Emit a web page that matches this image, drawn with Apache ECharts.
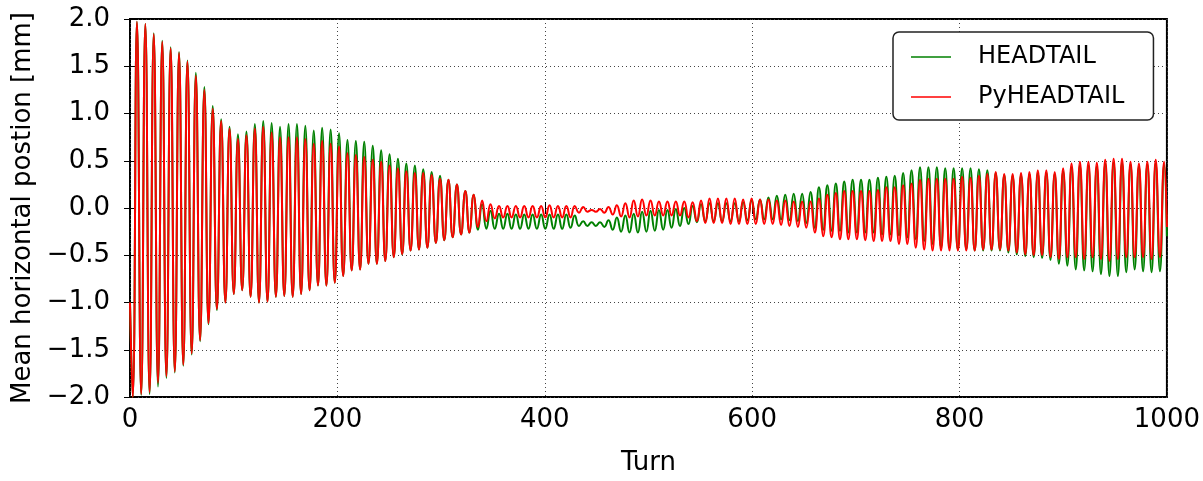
<!DOCTYPE html>
<html>
<head>
<meta charset="utf-8">
<script src="https://cdn.jsdelivr.net/npm/echarts@6/dist/echarts.min.js"></script>
<style>
  html, body { margin: 0; padding: 0; background: #fff; }
  #chart { width: 1203px; height: 481px; }
</style>
</head>
<body>
<div id="chart"></div>
<script>
// ---- data (extrema of each oscillation cycle) ----
const xTicks = [0, 200, 400, 600, 800, 1000];
const yTicks = [-2.0, -1.5, -1.0, -0.5, 0.0, 0.5, 1.0, 1.5, 2.0];
const seriesNames = ['HEADTAIL', 'PyHEADTAIL'];

const edgeTurns = [0, 1000];
const headtailEdges = [-1.0, -0.30];
const pyheadtailEdges = [-1.0, -0.20];

const troughTurns = [
  2.6, 10.8, 18.9, 27.0, 35.1, 43.2, 51.4, 59.5, 67.6, 75.7,
  83.8, 92.0, 100.1, 108.2, 116.3, 124.4, 132.6, 140.7, 148.8, 156.9,
  165.0, 173.2, 181.3, 189.4, 197.5, 205.6, 213.8, 221.9, 230.0, 238.1,
  246.2, 254.4, 262.5, 270.6, 278.7, 286.8, 295.0, 303.1, 311.2, 319.3,
  327.4, 335.6, 343.7, 351.8, 359.9, 368.0, 376.2, 384.3, 392.4, 400.5,
  408.6, 416.8, 424.9, 433.0, 441.1, 449.2, 457.4, 465.5, 473.6, 481.7,
  489.8, 498.0, 506.1, 514.2, 522.3, 530.4, 538.6, 546.7, 554.8, 562.9,
  571.0, 579.2, 587.3, 595.4, 603.5, 611.6, 619.8, 627.9, 636.0, 644.1,
  652.2, 660.4, 668.5, 676.6, 684.7, 692.8, 701.0, 709.1, 717.2, 725.3,
  733.4, 741.6, 749.7, 757.8, 765.9, 774.0, 782.2, 790.3, 798.4, 806.5,
  814.6, 822.8, 830.9, 839.0, 847.1, 855.2, 863.4, 871.5, 879.6, 887.7,
  895.8, 904.0, 912.1, 920.2, 928.3, 936.4, 944.6, 952.7, 960.8, 968.9,
  977.0, 985.2, 993.3
];
const peakTurns = [
  6.7, 14.8, 22.9, 31.1, 39.2, 47.3, 55.4, 63.5, 71.7, 79.8,
  87.9, 96.0, 104.1, 112.3, 120.4, 128.5, 136.6, 144.7, 152.9, 161.0,
  169.1, 177.2, 185.3, 193.5, 201.6, 209.7, 217.8, 225.9, 234.1, 242.2,
  250.3, 258.4, 266.5, 274.7, 282.8, 290.9, 299.0, 307.1, 315.3, 323.4,
  331.5, 339.6, 347.7, 355.9, 364.0, 372.1, 380.2, 388.3, 396.5, 404.6,
  412.7, 420.8, 428.9, 437.1, 445.2, 453.3, 461.4, 469.5, 477.7, 485.8,
  493.9, 502.0, 510.1, 518.3, 526.4, 534.5, 542.6, 550.7, 558.9, 567.0,
  575.1, 583.2, 591.3, 599.5, 607.6, 615.7, 623.8, 631.9, 640.1, 648.2,
  656.3, 664.4, 672.5, 680.7, 688.8, 696.9, 705.0, 713.1, 721.3, 729.4,
  737.5, 745.6, 753.7, 761.9, 770.0, 778.1, 786.2, 794.3, 802.5, 810.6,
  818.7, 826.8, 834.9, 843.1, 851.2, 859.3, 867.4, 875.5, 883.7, 891.8,
  899.9, 908.0, 916.1, 924.3, 932.4, 940.5, 948.6, 956.7, 964.9, 973.0,
  981.1, 989.2, 997.3
];

// HEADTAIL (green)
const headtailPeaks = [
  1.97, 1.95, 1.85, 1.77, 1.70, 1.65, 1.56, 1.43, 1.28, 1.08,
  0.94, 0.86, 0.78, 0.81, 0.89, 0.92, 0.90, 0.86, 0.89, 0.89,
  0.87, 0.82, 0.85, 0.83, 0.79, 0.72, 0.71, 0.70, 0.66, 0.61,
  0.57, 0.52, 0.47, 0.45, 0.41, 0.38, 0.34, 0.30, 0.25, 0.18,
  0.14, 0.04, -0.03, -0.06, -0.06, -0.07, -0.07, -0.07, -0.07, -0.07,
  -0.07, -0.07, -0.08, -0.14, -0.15, -0.15, -0.13, -0.10, -0.08, -0.06,
  -0.04, -0.03, -0.02, -0.02, -0.01, 0.00, 0.02, 0.04, 0.05, 0.05,
  0.05, 0.05, 0.06, 0.08, 0.09, 0.11, 0.13, 0.14, 0.15, 0.15,
  0.17, 0.22, 0.24, 0.26, 0.28, 0.30, 0.30, 0.30, 0.32, 0.33,
  0.34, 0.37, 0.40, 0.43, 0.43, 0.43, 0.42, 0.42, 0.42, 0.42,
  0.41, 0.40, 0.37, 0.35, 0.34, 0.35, 0.36, 0.37, 0.37, 0.36,
  0.39, 0.43, 0.45, 0.45, 0.44, 0.47, 0.48, 0.48, 0.46, 0.44,
  0.46, 0.47, 0.46
];
const headtailTroughs = [
  -2.00, -1.98, -1.97, -1.89, -1.80, -1.74, -1.67, -1.55, -1.41, -1.23,
  -1.08, -1.00, -0.91, -0.87, -0.94, -1.00, -0.99, -0.94, -0.93, -0.94,
  -0.91, -0.87, -0.82, -0.82, -0.79, -0.72, -0.66, -0.65, -0.59, -0.59,
  -0.56, -0.52, -0.49, -0.45, -0.44, -0.42, -0.37, -0.34, -0.31, -0.28,
  -0.26, -0.23, -0.22, -0.22, -0.22, -0.22, -0.22, -0.22, -0.22, -0.22,
  -0.22, -0.22, -0.21, -0.19, -0.19, -0.19, -0.20, -0.23, -0.25, -0.26,
  -0.26, -0.25, -0.24, -0.23, -0.21, -0.19, -0.17, -0.15, -0.14, -0.14,
  -0.14, -0.14, -0.14, -0.13, -0.12, -0.12, -0.12, -0.12, -0.13, -0.14,
  -0.16, -0.21, -0.23, -0.24, -0.24, -0.26, -0.26, -0.26, -0.26, -0.28,
  -0.28, -0.29, -0.31, -0.33, -0.35, -0.38, -0.42, -0.42, -0.44, -0.44,
  -0.45, -0.45, -0.45, -0.45, -0.47, -0.49, -0.51, -0.52, -0.53, -0.55,
  -0.59, -0.61, -0.65, -0.66, -0.67, -0.70, -0.72, -0.72, -0.68, -0.65,
  -0.67, -0.68, -0.67
];

// PyHEADTAIL (red)
const pyheadtailPeaks = [
  1.97, 1.95, 1.84, 1.76, 1.69, 1.64, 1.55, 1.40, 1.25, 1.05,
  0.92, 0.84, 0.73, 0.77, 0.84, 0.86, 0.80, 0.75, 0.75, 0.75,
  0.73, 0.68, 0.71, 0.68, 0.65, 0.58, 0.56, 0.54, 0.51, 0.49,
  0.45, 0.42, 0.39, 0.37, 0.37, 0.35, 0.31, 0.30, 0.25, 0.18,
  0.14, 0.08, 0.04, 0.02, 0.02, 0.02, 0.02, 0.02, 0.02, 0.03,
  0.02, 0.02, 0.02, 0.01, -0.02, -0.01, 0.01, 0.03, 0.05, 0.08,
  0.09, 0.08, 0.07, 0.07, 0.07, 0.07, 0.06, 0.08, 0.10, 0.10,
  0.10, 0.10, 0.09, 0.10, 0.09, 0.09, 0.08, 0.08, 0.07, 0.07,
  0.07, 0.10, 0.14, 0.16, 0.18, 0.18, 0.18, 0.18, 0.19, 0.22,
  0.22, 0.24, 0.26, 0.30, 0.31, 0.31, 0.31, 0.31, 0.33, 0.32,
  0.34, 0.36, 0.38, 0.36, 0.36, 0.37, 0.38, 0.40, 0.40, 0.38,
  0.42, 0.47, 0.49, 0.49, 0.48, 0.51, 0.52, 0.52, 0.49, 0.47,
  0.49, 0.51, 0.49
];
const pyheadtailTroughs = [
  -2.00, -1.97, -1.95, -1.85, -1.78, -1.73, -1.66, -1.54, -1.40, -1.22,
  -1.07, -1.00, -0.91, -0.87, -0.94, -1.00, -0.99, -0.94, -0.93, -0.94,
  -0.91, -0.87, -0.82, -0.82, -0.79, -0.72, -0.66, -0.65, -0.59, -0.59,
  -0.56, -0.52, -0.49, -0.45, -0.44, -0.42, -0.37, -0.34, -0.31, -0.28,
  -0.26, -0.20, -0.14, -0.11, -0.10, -0.10, -0.10, -0.10, -0.10, -0.10,
  -0.10, -0.10, -0.10, -0.05, -0.04, -0.04, -0.05, -0.07, -0.09, -0.10,
  -0.09, -0.08, -0.08, -0.08, -0.08, -0.08, -0.10, -0.14, -0.16, -0.16,
  -0.16, -0.17, -0.17, -0.17, -0.17, -0.17, -0.17, -0.18, -0.19, -0.20,
  -0.21, -0.26, -0.30, -0.31, -0.33, -0.33, -0.33, -0.34, -0.35, -0.35,
  -0.35, -0.38, -0.38, -0.42, -0.44, -0.45, -0.45, -0.45, -0.45, -0.45,
  -0.45, -0.44, -0.44, -0.44, -0.45, -0.47, -0.49, -0.50, -0.50, -0.52,
  -0.54, -0.52, -0.52, -0.54, -0.52, -0.54, -0.56, -0.54, -0.52, -0.52,
  -0.52, -0.54, -0.52
];

// ---- build point tables from the arrays ----
function buildPoints(edges, troughs, peaks) {
  const pts = [[edgeTurns[0], edges[0]]];
  for (let k = 0; k < troughTurns.length; k++) {
    pts.push([troughTurns[k], troughs[k]]);
    pts.push([peakTurns[k], peaks[k]]);
  }
  pts.push([edgeTurns[1], edges[1]]);
  return pts;
}
const headtailPts = buildPoints(headtailEdges, headtailTroughs, headtailPeaks);
const pyheadtailPts = buildPoints(pyheadtailEdges, pyheadtailTroughs, pyheadtailPeaks);

const FONT = 'DejaVu Sans';
const FS = 26;
const fmtY = v => (v < 0 ? '\u2212' : '') + Math.abs(v).toFixed(1);
const fmtX = v => String(Math.round(v));

const chart = echarts.init(document.getElementById('chart'), null, { renderer: 'canvas' });
const gridDot = { show: true, lineStyle: { color: '#444', width: 1, type: [1, 3] } };

chart.setOption({
  animation: false,
  backgroundColor: '#fff',
  grid: { left: 130, right: 36, top: 19, bottom: 80, show: true, borderColor: '#000', borderWidth: 2, backgroundColor: 'transparent' },
  legend: {
    orient: 'vertical',
    left: 893, top: 32,
    padding: [10, 29, 8, 18],
    itemGap: 10,
    itemWidth: 40, itemHeight: 14,
    backgroundColor: '#fff',
    borderColor: '#222', borderWidth: 1.5, borderRadius: 6,
    textStyle: { fontFamily: FONT, fontSize: 24, color: '#000', lineHeight: 30, padding: [0, 0, 0, 22] },
    data: seriesNames.map(n => ({ name: n, icon: 'path://M0,0 L40,0 L40,1.5 L0,1.5 Z' })),
    itemStyle: { borderWidth: 0 }
  },
  xAxis: [{
    type: 'value', min: xTicks[0], max: xTicks[xTicks.length - 1], interval: 200,
    name: 'Turn', nameLocation: 'middle', nameGap: 53,
    nameTextStyle: { fontFamily: FONT, fontSize: FS, color: '#000' },
    axisLine: { show: false },
    axisTick: { show: true, inside: true, length: 6, lineStyle: { color: '#000', width: 1 } },
    axisLabel: { fontFamily: FONT, fontSize: FS, color: '#000', margin: 10, formatter: fmtX },
    splitLine: gridDot
  }, {
    type: 'value', position: 'top', min: xTicks[0], max: xTicks[xTicks.length - 1], interval: 200,
    axisLine: { show: false },
    axisTick: { show: true, inside: true, length: 6, lineStyle: { color: '#000', width: 1 } },
    axisLabel: { show: false }, splitLine: { show: false }
  }],
  yAxis: [{
    type: 'value', min: yTicks[0], max: yTicks[yTicks.length - 1], interval: 0.5,
    name: 'Mean horizontal postion [mm]', nameLocation: 'middle', nameGap: 88,
    nameTextStyle: { fontFamily: FONT, fontSize: FS, color: '#000' },
    axisLine: { show: false },
    axisTick: { show: true, inside: true, length: 6, lineStyle: { color: '#000', width: 1 } },
    axisLabel: { fontFamily: FONT, fontSize: FS, color: '#000', margin: 20, formatter: fmtY },
    splitLine: gridDot
  }, {
    type: 'value', position: 'right', min: yTicks[0], max: yTicks[yTicks.length - 1], interval: 0.5,
    axisLine: { show: false },
    axisTick: { show: true, inside: true, length: 6, lineStyle: { color: '#000', width: 1 } },
    axisLabel: { show: false }, splitLine: { show: false }
  }],
  series: [{
    name: seriesNames[0], type: 'line', data: headtailPts,
    xAxisIndex: 0, yAxisIndex: 0,
    symbol: 'none', smooth: 0.5,
    lineStyle: { color: '#008000', width: 2 }, itemStyle: { color: '#008000' },
    z: 2
  }, {
    name: seriesNames[1], type: 'line', data: pyheadtailPts,
    xAxisIndex: 0, yAxisIndex: 0,
    symbol: 'none', smooth: 0.5,
    lineStyle: { color: '#ff0000', width: 2 }, itemStyle: { color: '#ff0000' },
    z: 3
  }]
});
</script>
</body>
</html>
